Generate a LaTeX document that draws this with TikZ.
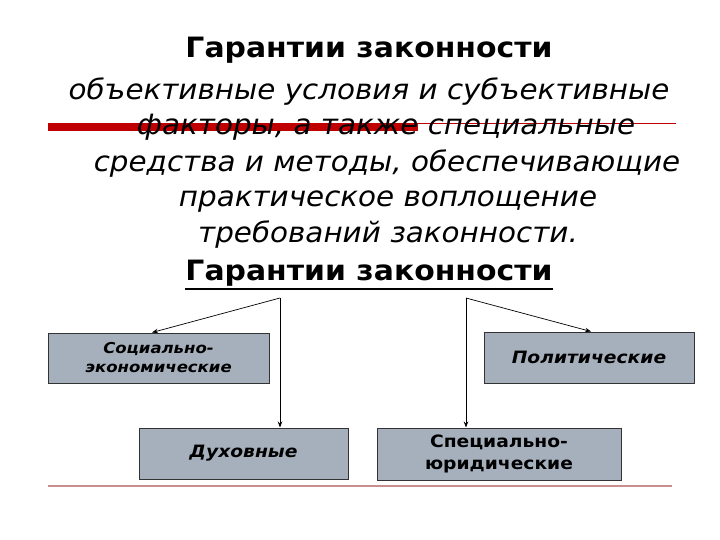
\documentclass[tikz,border=0pt]{standalone}
\usepackage{fontspec}
\setmainfont{DejaVu Sans}
\newfontfamily\tfont[FakeStretch=1.067]{DejaVu Sans}
\newfontfamily\ifont[FakeStretch=1.05]{DejaVu Sans}
\newfontfamily\wfont[FakeStretch=1.1]{DejaVu Sans}
\usetikzlibrary{arrows.meta}
\definecolor{boxfill}{HTML}{A6B0BD}
\definecolor{barred}{HTML}{C00000}
\definecolor{pinkline}{HTML}{C98F8F}
\tikzset{
  gbox/.style={draw=black!80, line width=1pt, fill=boxfill, inner sep=0pt, align=center, font=\wfont\fontsize{17}{21}\selectfont\bfseries\itshape},
  conn/.style={line width=0.7pt, -{Stealth[length=6pt,width=4.5pt]}},
  itline/.style={anchor=base, font=\ifont\fontsize{28}{32}\selectfont\itshape},
  ttl/.style={anchor=base, inner sep=0pt, font=\tfont\fontsize{28}{32}\selectfont\bfseries},
}
\begin{document}
\begin{tikzpicture}[x=1pt,y=-1pt]
\useasboundingbox (0,0) rectangle (720,540);
% red bar
\fill[barred] (48,123) rectangle (418,131);
\draw[barred, line width=1.1pt] (418,123.5) -- (676,123.5);
% title
\node[ttl] (t1) at (369,58) {Гарантии законности};
% definition
\node[itline] (l1) at (369,100) {объективные условия и субъективные};
\node[itline] (l2) at (386,135) {факторы, а также специальные};
\node[itline] (l3) at (387,172) {средства и методы, обеспечивающие};
\node[itline] (l4) at (388,207) {практическое воплощение};
\node[itline] (l5) at (388,242) {требований законности.};
% second title
\node[ttl] (t2) at (369,280) {Гарантии законности};
\draw[line width=1.5pt] (t2.base west) ++(0,9) coordinate (u1) -- (u1 -| t2.base east);
% boxes
\node[gbox, minimum width=221pt, minimum height=50pt, font=\wfont\fontsize{15}{19}\selectfont\bfseries\itshape] (soc) at (158.5,358) {Социально-\\экономические};
\node[gbox, minimum width=209pt, minimum height=51pt] (dukh) at (243.5,453.5) {Духовные};
\node[gbox, minimum width=210pt, minimum height=51pt] (pol) at (589,357.5) {Политические};
\node[gbox, minimum width=244pt, minimum height=52pt, font=\wfont\fontsize{17}{22}\selectfont\bfseries] (spec) at (499,454) {Специально-\\юридические};
% connectors
\coordinate (sl) at (280,298);
\coordinate (sr) at (466,298);
\draw[conn] (sl) -- (soc.north -| 152,0);
\draw[conn] (sl) -- (dukh.north -| sl);
\draw[conn] (sr) -- (pol.north -| 591,0);
\draw[conn] (sr) -- (spec.north -| sr);
% bottom line
\draw[pinkline, line width=2pt] (48,486) -- (672,486);
\end{tikzpicture}
\end{document}
